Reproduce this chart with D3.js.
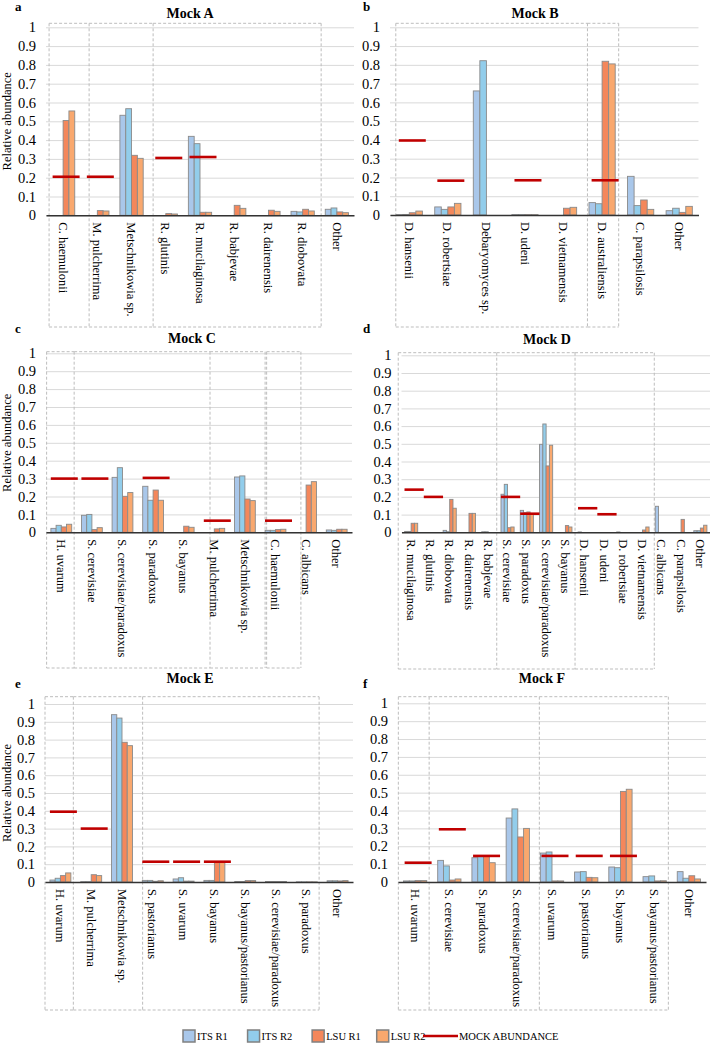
<!DOCTYPE html>
<html><head><meta charset="utf-8">
<script src="https://cdn.jsdelivr.net/npm/d3@7/dist/d3.min.js"></script>
<style>body{margin:0;background:#fff}svg{display:block}svg text{font-family:"Liberation Serif","Times New Roman",Times,"DejaVu Serif",serif !important;fill:#000}</style>
</head><body><svg id="c" width="710" height="1044"></svg>
<script>
// ---- data ----
const seriesNames = ["ITS R1","ITS R2","LSU R1","LSU R2"];
const mockName = "MOCK ABUNDANCE";
const yTicks = [0,0.1,0.2,0.3,0.4,0.5,0.6,0.7,0.8,0.9,1];

const catsA = ["C. haemulonii","M. pulcherrima","Metschnikowia sp.","R. glutinis","R. mucilaginosa","R. babjevae","R. dairenensis","R. diobovata","Other"];
const itsR1A = [0,0,0.532,0,0.42,0,0,0.021,0.032];
const itsR2A = [0,0,0.567,0,0.381,0,0,0.018,0.039];
const lsuR1A = [0.504,0.025,0.319,0.009,0.016,0.053,0.027,0.032,0.018];
const lsuR2A = [0.555,0.023,0.303,0.007,0.016,0.037,0.021,0.023,0.014];
const mockA  = [0.205,0.205,null,0.305,0.31,null,null,null,null];

const catsB = ["D. hansenii","D. robertsiae","Debaryomyces sp.","D. udeni","D. vietnamensis","D. australiensis","C. parapsilosis","Other"];
const itsR1B = [0.002,0.043,0.661,0.002,0,0.066,0.206,0.023];
const itsR2B = [0.003,0.03,0.822,0.002,0,0.06,0.05,0.036];
const lsuR1B = [0.012,0.043,0,0.002,0.036,0.819,0.08,0.014];
const lsuR2B = [0.021,0.062,0,0.002,0.041,0.805,0.03,0.046];
const mockB  = [0.397,0.183,null,0.185,null,0.185,null,null];

const catsC = ["H. uvarum","S. cerevisiae","S. cerevisiae/paradoxus","S. paradoxus","S. bayanus","M. pulcherrima","Metschnikowia sp.","C. haemulonii","C. albicans","Other"];
const itsR1C = [0.022,0.095,0.307,0.257,0,0,0.309,0.011,0,0.013];
const itsR2C = [0.039,0.1,0.361,0.179,0,0,0.315,0.011,0,0.011];
const lsuR1C = [0.03,0.015,0.201,0.236,0.034,0.019,0.186,0.015,0.264,0.017];
const lsuR2C = [0.045,0.026,0.222,0.179,0.028,0.022,0.177,0.017,0.283,0.017];
const mockC  = [0.3,0.3,null,0.304,null,0.065,null,0.065,null,null];

const catsD = ["R. mucilaginosa","R. glutinis","R. diobovata","R. dairenensis","R. babjevae","S. cerevisiae","S. paradoxus","S. cerevisiae/paradoxus","S. bayanus","D. hansenii","D. udeni","D. robertsiae","D. vietnamensis","C. albicans","C. parapsilosis","Other"];
const itsR1D = [0.005,0,0.011,0,0.003,0.215,0.124,0.497,0,0.002,0,0.002,0,0.147,0,0.009];
const itsR2D = [0.005,0,0.003,0,0.003,0.271,0.111,0.612,0,0,0,0,0,0,0,0.009];
const lsuR1D = [0.051,0,0.186,0.107,0,0.026,0.115,0.375,0.038,0,0,0,0.013,0,0.073,0.024];
const lsuR2D = [0.051,0,0.136,0.107,0,0.03,0.102,0.492,0.03,0,0,0,0.03,0,0,0.04];
const mockD  = [0.241,0.2,null,null,null,0.2,0.105,null,null,0.136,0.102,null,null,null,null,null];

const catsE = ["H. uvarum","M. pulcherrima","Metschnikowia sp.","S. pastorianus","S. uvarum","S. bayanus","S. bayanus/pastorianus","S. cerevisiae/paradoxus","S. paradoxus","Other"];
const itsR1E = [0.011,0.002,0.94,0.009,0.017,0.009,0.003,0.003,0.001,0.007];
const itsR2E = [0.021,0.002,0.921,0.009,0.024,0.009,0.003,0.003,0.001,0.007];
const lsuR1E = [0.036,0.041,0.785,0.004,0.005,0.114,0.008,0.003,0.001,0.006];
const lsuR2E = [0.051,0.036,0.766,0.007,0.005,0.114,0.008,0.003,0.001,0.008];
const mockE  = [0.395,0.3,null,0.114,0.114,0.114,null,null,null,null];

const catsF = ["H. uvarum","S. cerevisiae","S. paradoxus","S. cerevisiae/paradoxus","S. uvarum","S. pastorianus","S. bayanus","S. bayanus/pastorianus","Other"];
const itsR1F = [0.006,0.121,0.136,0.358,0.162,0.056,0.084,0.03,0.058];
const itsR2F = [0.006,0.09,0.146,0.409,0.168,0.058,0.08,0.034,0.021];
const lsuR1F = [0.008,0.011,0.146,0.252,0.006,0.026,0.507,0.006,0.035];
const lsuR2F = [0.008,0.017,0.108,0.3,0.006,0.024,0.519,0.007,0.017];
const mockF  = [0.108,0.295,0.146,null,0.146,0.146,0.146,null,null];

// dashed grouping boxes, in category units
const boxesA = [[0.09,1.26],[1.26,3.13],[3.13,8.04]];
const boxesB = [[0.15,5.12],[5.12,5.93]];
const boxesC = [[0.02,0.92],[0.92,5.36],[5.36,7.16],[7.21,8.33]];
const boxesD = [[-0.17,4.94],[4.94,9.0],[9.0,13.11]];
const boxesE = [[0,0.92],[0.92,3.17],[3.17,8.9]];
const boxesF = [[0.01,0.91],[0.91,4.13],[4.13,7.9]];

// ---- styles / layout ----
const FONT = '"Liberation Serif","Times New Roman",Times,"DejaVu Serif",serif';
const colors = ["#a9c7ea","#92cdeb","#f4875b","#f9a86e"];
const panels = [
 {letter:"a",title:"Mock A",cats:catsA,s:[itsR1A,itsR2A,lsuR1A,lsuR2A],mock:mockA,boxes:boxesA,
  lx:15,ly:11,tx:190,ty:18,x0:46,x1:354,yT:27.3,yB:215.3,bT:23.3,bB:327,ylab:true},
 {letter:"b",title:"Mock B",cats:catsB,s:[itsR1B,itsR2B,lsuR1B,lsuR2B],mock:mockB,boxes:boxesB,
  lx:363,ly:11,tx:535,ty:18,x0:390,x1:698.5,yT:27.3,yB:215,bT:23.3,bB:327,ylab:false},
 {letter:"c",title:"Mock C",cats:catsC,s:[itsR1C,itsR2C,lsuR1C,lsuR2C],mock:mockC,boxes:boxesC,
  lx:15,ly:333,tx:192,ty:343,x0:46,x1:352,yT:353.3,yB:532.3,bT:351.7,bB:668,ylab:true},
 {letter:"d",title:"Mock D",cats:catsD,s:[itsR1D,itsR2D,lsuR1D,lsuR2D],mock:mockD,boxes:boxesD,
  lx:363,ly:333,tx:547,ty:344,x0:401.5,x1:710,yT:355.3,yB:532.3,bT:352.7,bB:669,ylab:false},
 {letter:"e",title:"Mock E",cats:catsE,s:[itsR1E,itsR2E,lsuR1E,lsuR2E],mock:mockE,boxes:boxesE,
  lx:15,ly:688,tx:190,ty:683,x0:45,x1:353,yT:704,yB:882,bT:696.7,bB:1010,ylab:true},
 {letter:"f",title:"Mock F",cats:catsF,s:[itsR1F,itsR2F,lsuR1F,lsuR2F],mock:mockF,boxes:boxesF,
  lx:363,ly:688,tx:542,ty:683,x0:398,x1:706,yT:703.3,yB:882,bT:696.7,bB:1010,ylab:false}
];

const svg = d3.select("#c");

panels.forEach(p => {
  const g = svg.append("g").attr("font-family",FONT);
  const x = d3.scaleBand().domain(p.cats).range([p.x0,p.x1]).paddingInner(0).paddingOuter(0);
  const bw = x.bandwidth();
  const u = d3.scaleLinear().domain([0,p.cats.length]).range([p.x0,p.x1]);
  const y = d3.scaleLinear().domain([0,1]).range([p.yB,p.yT]);
  const xs = d3.scaleBand().domain(seriesNames).range([0,bw*0.68]);

  // gridlines + y ticks
  const ax = g.append("g").attr("transform",`translate(${p.x0},0)`)
    .call(d3.axisLeft(y).tickValues(yTicks).tickSize(-(p.x1-p.x0)).tickPadding(10).tickFormat(d=>String(+d.toFixed(1))));
  ax.attr("font-family",FONT);
  ax.select(".domain").remove();
  ax.selectAll(".tick line").attr("stroke","#d9d9d9").attr("stroke-width",1);
  ax.selectAll(".tick text").style("font-family",FONT).attr("font-size",14.5).attr("fill","#000");

  // dashed boxes (drawn as individual edges, shared edges once)
  const segs = [];
  const vx = new Set();
  p.boxes.forEach(b => {
    segs.push([u(b[0]),p.bT,u(b[1]),p.bT]);
    segs.push([u(b[0]),p.bB,u(b[1]),p.bB]);
    b.forEach(e => { if(!vx.has(e)){ vx.add(e); segs.push([u(e),p.bT,u(e),p.bB]); } });
  });
  g.append("g").selectAll("line").data(segs).join("line")
    .attr("x1",d=>d[0]).attr("y1",d=>d[1]).attr("x2",d=>d[2]).attr("y2",d=>d[3])
    .attr("stroke","#bdbdbd").attr("stroke-width",1).attr("stroke-dasharray","3,2");

  // bars
  p.s.forEach((vals,si) => {
    g.append("g").selectAll("rect").data(p.cats.map((c,i)=>({c,v:vals[i]})).filter(d=>d.v>0)).join("rect")
      .attr("x",d=>x(d.c)+bw*0.16+xs(seriesNames[si]))
      .attr("width",xs.bandwidth())
      .attr("y",d=>y(d.v)).attr("height",d=>y(0)-y(d.v))
      .attr("fill",colors[si]).attr("stroke","#8a8a8a").attr("stroke-width",0.9);
  });

  // baseline
  g.append("g").attr("transform",`translate(0,${p.yB})`)
    .call(d3.axisBottom(x).tickSize(0).tickFormat(""))
    .call(a=>a.select(".domain").attr("stroke","#333").attr("stroke-width",1.4));

  // mock abundance markers
  const mw = Math.min(27,bw);
  g.append("g").selectAll("line").data(p.cats.map((c,i)=>({c,v:p.mock[i]})).filter(d=>d.v!=null)).join("line")
    .attr("x1",d=>x(d.c)+bw/2+3-mw/2).attr("x2",d=>x(d.c)+bw/2+3+mw/2)
    .attr("y1",d=>y(d.v)).attr("y2",d=>y(d.v))
    .attr("stroke","#c00000").attr("stroke-width",2.6);

  // category labels
  g.append("g").selectAll("text").data(p.cats).join("text")
    .attr("transform",d=>`translate(${x(d)+bw/2},${p.yB+7}) rotate(90)`)
    .attr("dy","0.35em").attr("font-size",12.5).attr("text-anchor","start").text(d=>d);

  // title + letter
  g.append("text").attr("x",p.tx).attr("y",p.ty).attr("text-anchor","middle")
    .attr("font-weight","bold").attr("font-size",14).text(p.title);
  g.append("text").attr("x",p.lx).attr("y",p.ly).attr("font-weight","bold").attr("font-size",13).text(p.letter);

  if (p.ylab) {
    g.append("text").attr("transform",`translate(11,${(p.yT+p.yB)/2}) rotate(-90)`)
      .attr("text-anchor","middle").attr("font-size",12.5).text("Relative abundance");
  }
});

// legend
const leg = svg.append("g").attr("transform","translate(0,1036)").attr("font-family",FONT);
const legX = d3.scalePoint().domain(seriesNames).range([183,376.7]);
seriesNames.forEach((n,i)=>{
  leg.append("rect").attr("x",legX(n)).attr("y",-6).attr("width",12).attr("height",12)
    .attr("fill",colors[i]).attr("stroke","#808080").attr("stroke-width",1.5);
  leg.append("text").attr("x",legX(n)+14).attr("y",0).attr("dy","0.35em").attr("font-size",10.5).text(n);
});
leg.append("line").attr("x1",423).attr("x2",458).attr("y1",0).attr("y2",0).attr("stroke","#c00000").attr("stroke-width",2.6);
leg.append("text").attr("x",459).attr("y",0).attr("dy","0.35em").attr("font-size",10.5).text(mockName);
</script></body></html>
